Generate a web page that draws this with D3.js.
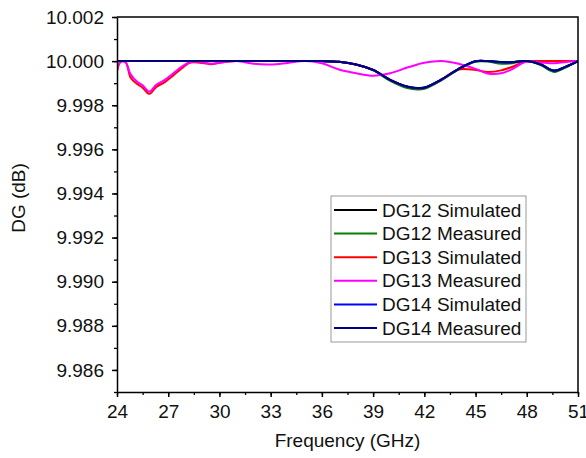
<!DOCTYPE html>
<html lang="en">
<meta charset="utf-8">
<head>
<script src="https://d3js.org/d3.v7.min.js"></script>
<style>
  body { margin: 0; background: #fff; }
  text { font-family: "Liberation Sans", Arial, sans-serif; fill: #111; }
</style>
</head>
<body>
<div id="chart"></div>
<script>
// frequency points (GHz) shared by all series
const freq = [24, 24.2, 24.5, 24.8, 25.2, 25.5, 25.9, 26.3, 26.8, 27.3, 27.8, 28.3, 29, 29.5, 30,
  31, 32, 33, 34, 35, 36, 37, 38, 39, 40, 41, 41.6, 42, 43, 44, 45, 45.7, 46.5, 47, 48, 48.8, 49.6, 50.3, 51];

const dg12Sim = [10.0000, 10.0000, 10.0000, 10.0000, 10.0000, 10.0000, 10.0000, 10.0000, 10.0000, 10.0000, 10.0000, 10.0000, 10.0000, 10.0000, 10.0000,
  10.0000, 10.0000, 10.0000, 10.0000, 10.0000, 10.0000, 9.99997, 9.99985, 9.99960, 9.99915, 9.99884, 9.99877, 9.99879, 9.99916, 9.99964, 9.99999, 10.0000, 9.99995, 9.99994, 10.0000, 9.99985, 9.99956, 9.99975, 10.0000];
const dg12Meas = [10.0000, 10.0000, 10.0000, 10.0000, 10.0000, 10.0000, 10.0000, 10.0000, 10.0000, 10.0000, 10.0000, 10.0000, 10.0000, 10.0000, 10.0000,
  10.0000, 10.0000, 10.0000, 10.0000, 10.0000, 10.0000, 9.99997, 9.99984, 9.99958, 9.99911, 9.99878, 9.99871, 9.99874, 9.99913, 9.99962, 9.99997, 9.99998, 9.99988, 9.99989, 10.0000, 9.99982, 9.99951, 9.99972, 10.0000];
const dg13Sim = [9.99953, 9.99995, 9.99995, 9.99925, 9.99895, 9.99880, 9.99852, 9.99883, 9.99905, 9.99935, 9.99968, 9.99993, 9.99992, 9.99986, 9.99992,
  10.0000, 10.0000, 10.0000, 10.0000, 10.0000, 10.0000, 9.99997, 9.99985, 9.99960, 9.99915, 9.99884, 9.99877, 9.99879, 9.99916, 9.99962, 9.99960, 9.99951, 9.99958, 9.99970, 9.99998, 10.0000, 10.0000, 10.0000, 10.0000];
const dg13Meas = [9.99960, 9.99998, 9.99995, 9.99940, 9.99905, 9.99890, 9.99862, 9.99893, 9.99915, 9.99945, 9.99975, 9.99996, 9.99995, 9.99988, 9.99993,
  10.0000, 9.99988, 9.99985, 9.99992, 10.0000, 9.99990, 9.99962, 9.99945, 9.99934, 9.99945, 9.99971, 9.99985, 9.99993, 10.00001, 9.99988, 9.99965, 9.99944, 9.99945, 9.99958, 9.99998, 9.99994, 9.99990, 9.99996, 10.0000];
const dg14Sim = [10.0000, 10.0000, 10.0000, 10.0000, 10.0000, 10.0000, 10.0000, 10.0000, 10.0000, 10.0000, 10.0000, 10.0000, 10.0000, 10.0000, 10.0000,
  10.0000, 10.0000, 10.0000, 10.0000, 10.0000, 10.0000, 9.99997, 9.99985, 9.99960, 9.99915, 9.99884, 9.99877, 9.99879, 9.99916, 9.99964, 9.99999, 10.0000, 9.99995, 9.99994, 10.0000, 9.99985, 9.99956, 9.99975, 10.0000];
const dg14Meas = [10.0000, 10.0000, 10.0000, 10.0000, 10.0000, 10.0000, 10.0000, 10.0000, 10.0000, 10.0000, 10.0000, 10.0000, 10.0000, 10.0000, 10.0000,
  10.0000, 10.0000, 10.0000, 10.0000, 10.0000, 10.0000, 9.99997, 9.99985, 9.99960, 9.99915, 9.99885, 9.99878, 9.99880, 9.99917, 9.99965, 10.0000, 10.0000, 9.99996, 9.99995, 10.0000, 9.99986, 9.99957, 9.99976, 10.0000];

const seriesNames = ["DG12 Simulated", "DG12 Measured", "DG13 Simulated", "DG13 Measured", "DG14 Simulated", "DG14 Measured"];
const seriesColors = ["#000000", "#008000", "#ff0000", "#ff00ff", "#0000ff", "#000080"];
const seriesValues = [dg12Sim, dg12Meas, dg13Sim, dg13Meas, dg14Sim, dg14Meas];

const xTicks = [24, 27, 30, 33, 36, 39, 42, 45, 48, 51];
const yTicks = [9.986, 9.988, 9.990, 9.992, 9.994, 9.996, 9.998, 10.000, 10.002];

const W = 586, H = 458;
const margin = {left: 117, top: 17, right: 8, bottom: 66};

const svg = d3.select("#chart").append("svg")
  .attr("width", W).attr("height", H);

const x = d3.scaleLinear().domain([24, 51]).range([margin.left, W - margin.right]);
const y = d3.scaleLinear().domain([9.985, 10.002]).range([H - margin.bottom, margin.top]);

svg.append("clipPath").attr("id", "clip")
  .append("rect")
  .attr("x", margin.left).attr("y", margin.top)
  .attr("width", W - margin.left - margin.right)
  .attr("height", H - margin.top - margin.bottom);

// curves
const line = d3.line()
  .x((d, i) => x(freq[i]))
  .y(d => y(d))
  .curve(d3.curveCatmullRom.alpha(0.5));

svg.append("g").attr("clip-path", "url(#clip)")
  .selectAll("path")
  .data(seriesValues)
  .enter()
  .append("path")
  .attr("d", d => line(d))
  .attr("fill", "none")
  .attr("stroke", (d, i) => seriesColors[i])
  .attr("stroke-width", 2);

// frame (top / right)
svg.append("path")
  .attr("d", "M" + x(24) + "," + y(10.002) + "H" + x(51) + "V" + y(9.985))
  .attr("fill", "none").attr("stroke", "#000").attr("stroke-width", 1.5);

// minor ticks
svg.append("g")
  .attr("transform", "translate(0," + y(9.985) + ")")
  .call(d3.axisBottom(x).tickValues(d3.range(24, 51.01, 1.5)).tickSize(3).tickFormat(""))
  .call(g => g.select(".domain").remove())
  .selectAll("line").attr("stroke-width", 1.3);
svg.append("g")
  .attr("transform", "translate(" + x(24) + ",0)")
  .call(d3.axisLeft(y).tickValues(d3.range(9.985, 10.0021, 0.001)).tickSize(3).tickFormat(""))
  .call(g => g.select(".domain").remove())
  .selectAll("line").attr("stroke-width", 1.3);

// major axes
const xAxis = svg.append("g")
  .attr("transform", "translate(0," + y(9.985) + ")")
  .call(d3.axisBottom(x).tickValues(xTicks).tickSize(5).tickPadding(8).tickFormat(d3.format("d")).tickSizeOuter(0));
const yAxis = svg.append("g")
  .attr("transform", "translate(" + x(24) + ",0)")
  .call(d3.axisLeft(y).tickValues(yTicks).tickSize(5).tickPadding(8).tickFormat(d3.format(".3f")).tickSizeOuter(0));

[xAxis, yAxis].forEach(a => {
  a.select(".domain").attr("stroke-width", 1.5);
  a.selectAll(".tick line").attr("stroke-width", 1.5);
  a.selectAll(".tick text").style("font-size", "19px").attr("fill", "#111");
});

// axis titles
svg.append("text")
  .attr("x", (x(24) + x(51)) / 2).attr("y", 447)
  .attr("text-anchor", "middle")
  .style("font-size", "19px")
  .text("Frequency (GHz)");
svg.append("text")
  .attr("transform", "translate(25,198) rotate(-90)")
  .attr("text-anchor", "middle")
  .style("font-size", "19px")
  .text("DG (dB)");

// legend
const legend = svg.append("g");
legend.append("rect")
  .attr("x", 331).attr("y", 196).attr("width", 195).attr("height", 146)
  .attr("fill", "#fff").attr("stroke", "#999").attr("stroke-width", 1);
const rows = legend.selectAll("g.row")
  .data(seriesNames)
  .enter().append("g")
  .attr("transform", (d, i) => "translate(0," + (210 + i * 23.6) + ")");
rows.append("line")
  .attr("x1", 334).attr("x2", 377)
  .attr("stroke", (d, i) => seriesColors[i])
  .attr("stroke-width", 2);
rows.append("text")
  .attr("x", 382).attr("dy", "0.35em")
  .style("font-size", "19px")
  .text(d => d);
</script>
</body>
</html>
